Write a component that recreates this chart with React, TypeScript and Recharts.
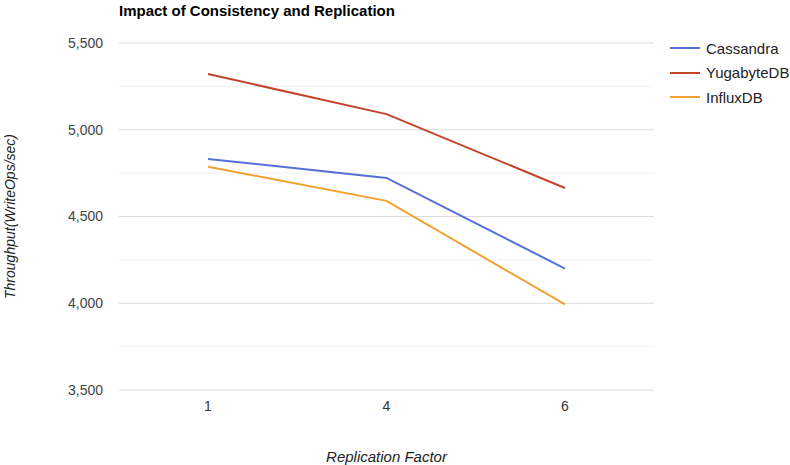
import React from "react";
import {
  LineChart,
  Line,
  XAxis,
  YAxis,
  CartesianGrid,
  ReferenceLine,
} from "recharts";

// Throughput per replication factor for each database
const replicationFactors = ["1", "4", "6"];
const cassandra = [4832, 4722, 4200];
const yugabyte = [5321, 5090, 4664];
const influx = [4787, 4590, 3993];

const majorTicks = [3500, 4000, 4500, 5000, 5500];
const minorTicks = [3750, 4250, 4750, 5250];

const seriesInfo = [
  { key: "Cassandra", color: "#5470d6" },
  { key: "YugabyteDB", color: "#c4432b" },
  { key: "InfluxDB", color: "#f0a132" },
];

const data = replicationFactors.map((rf, i) => ({
  rf,
  Cassandra: cassandra[i],
  YugabyteDB: yugabyte[i],
  InfluxDB: influx[i],
}));

const FONT = "Arial, 'Liberation Sans', Helvetica, sans-serif";

const LegendBox = () => (
  <div
    style={{
      position: "absolute",
      left: 670,
      top: 36,
      fontFamily: FONT,
      fontSize: 15,
      color: "#222",
    }}
  >
    {seriesInfo.map((s) => (
      <div
        key={s.key}
        style={{ display: "flex", alignItems: "center", height: 24.5 }}
      >
        <div
          style={{
            width: 30,
            height: 2,
            background: s.color,
            marginRight: 6,
          }}
        />
        <span>{s.key}</span>
      </div>
    ))}
  </div>
);

export default function App() {
  return (
    <div
      style={{
        position: "absolute",
        left: 0,
        top: 0,
        width: 790,
        height: 465,
        background: "#fff",
        fontFamily: FONT,
      }}
    >
      <div
        style={{
          position: "absolute",
          left: 119,
          top: 2,
          fontSize: 15,
          fontWeight: "bold",
          color: "#000",
        }}
      >
        Impact of Consistency and Replication
      </div>
      <LineChart
        width={790}
        height={465}
        data={data}
        margin={{ top: 43, right: 136, bottom: 45, left: 0 }}
      >
        {minorTicks.map((v) => (
          <ReferenceLine key={v} y={v} stroke="#f0f0f0" strokeWidth={1} />
        ))}
        <CartesianGrid vertical={false} stroke="#dcdcdc" />
        <XAxis
          dataKey="rf"
          height={30}
          tickLine={false}
          axisLine={false}
          padding={{ left: 89, right: 89 }}
          tick={{ fill: "#333", fontSize: 14, fontFamily: FONT }}
          tickMargin={5}
          label={{
            value: "Replication Factor",
            position: "insideBottom",
            offset: -42,
            fill: "#222",
            fontSize: 15,
            fontStyle: "italic",
            fontFamily: FONT,
          }}
        />
        <YAxis
          width={119}
          domain={[3500, 5500]}
          ticks={majorTicks}
          tickLine={false}
          axisLine={false}
          tickMargin={10}
          tickFormatter={(v: number) => v.toLocaleString("en-US")}
          tick={{ fill: "#444", fontSize: 14, fontFamily: FONT }}
          label={{
            value: "Throughput(WriteOps/sec)",
            angle: -90,
            position: "insideLeft",
            offset: 10,
            style: { textAnchor: "middle" },
            fill: "#222",
            fontSize: 14,
            fontStyle: "italic",
            fontFamily: FONT,
          }}
        />
        {seriesInfo.map((s) => (
          <Line
            key={s.key}
            type="linear"
            dataKey={s.key}
            stroke={s.color}
            strokeWidth={2}
            dot={false}
            isAnimationActive={false}
          />
        ))}
      </LineChart>
      <LegendBox />
    </div>
  );
}
